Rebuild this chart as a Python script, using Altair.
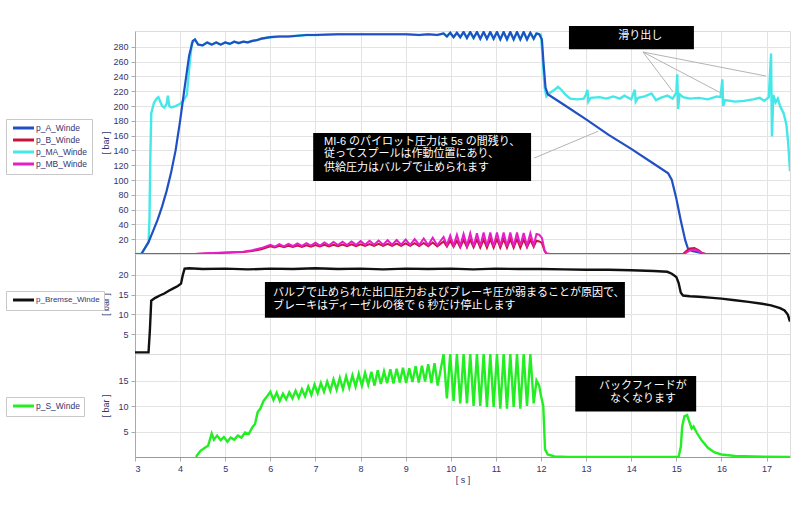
import altair as alt
import pandas as pd

# ---------------- axes / ticks ----------------
X_DOMAIN = [3.0, 17.52]
X_TICKS = list(range(3, 18))
TOP_DOMAIN = [0, 301.4]
TOP_TICKS = [20, 40, 60, 80, 100, 120, 140, 160, 180, 200, 220, 240, 260, 280]
MID_DOMAIN = [0, 25.3]
MID_TICKS = [5, 10, 15, 20]
BOT_DOMAIN = [0, 20.2]
BOT_TICKS = [5, 10, 15]

TOP_NAMES = ["p_A_Winde", "p_B_Winde", "p_MA_Winde", "p_MB_Winde"]
TOP_COLORS = ["#2150c4", "#c8143c", "#44e8e8", "#e61ec8"]
MID_NAMES = ["p_Bremse_Winde"]
MID_COLORS = ["#111111"]
BOT_NAMES = ["p_S_Winde"]
BOT_COLORS = ["#22ee22"]

# shared oscillation instants (peak / trough) 9.8 s .. 11.9 s
OSC_T = [9.840, 9.914, 9.988, 10.062, 10.136, 10.210, 10.284, 10.358, 10.432, 10.506,
         10.580, 10.654, 10.728, 10.802, 10.876, 10.950, 11.024, 11.098, 11.172, 11.246,
         11.320, 11.394, 11.468, 11.542, 11.616, 11.690, 11.764, 11.838]

# ---------------- p_A_Winde ----------------
A_T_RISE = [3.0, 3.14, 3.3, 3.4, 3.5, 3.6, 3.7, 3.8, 3.9, 4.0, 4.1, 4.2, 4.28]
A_V_RISE = [0, 0, 16, 31, 46, 64, 85, 110, 140, 180, 225, 268, 288]
A_T_PLAT = [4.33, 4.4, 4.5, 4.6, 4.7, 4.8, 4.9, 5.0, 5.1, 5.2,
            5.3, 5.4, 5.5, 5.6, 5.7, 5.8, 5.9, 6.0, 6.2, 6.4,
            6.6, 6.8, 7.0, 7.5, 8.0, 8.5, 9.0, 9.3, 9.5, 9.7]
A_V_PLAT = [290, 283, 282, 286, 283, 286, 283, 286, 284, 287,
            285, 287, 286, 288, 289, 291, 292, 293, 294, 294,
            295, 296, 296, 297, 297, 297, 297, 296, 297, 296]
A_V_OSC = [298, 294, 299, 293, 299, 293, 300, 292, 300, 292, 300, 291, 300, 291,
           300, 291, 300, 290, 300, 290, 300, 290, 300, 290, 300, 290, 299, 291]
A_T_END = [11.9, 11.96, 12.02, 12.06, 12.1, 12.15, 12.5, 13.0, 13.5, 14.0, 14.5,
           14.82, 14.9, 15.0, 15.1, 15.2, 15.26, 15.35, 15.5, 15.65, 17.52]
A_V_END = [298, 297, 290, 255, 225, 216, 202, 182, 161, 142, 122,
           109, 100, 75, 45, 18, 7, 4, 2, 0, 0]

# ---------------- p_MA_Winde ----------------
MA_T_START = [3.0, 3.14, 3.3, 3.32, 3.34, 3.36, 3.42, 3.48, 3.52, 3.56,
              3.6, 3.65, 3.7, 3.73, 3.76, 3.8, 3.9, 4.0, 4.08, 4.15, 4.2, 4.26]
MA_V_START = [0, 0, 16, 45, 130, 190, 204, 210, 212, 206,
              200, 198, 203, 214, 200, 198, 200, 203, 208, 215, 250, 285]
MA_T_END = [11.9, 11.96, 12.0, 12.04, 12.08, 12.12, 12.2, 12.3, 12.38, 12.45,
            12.55, 12.65, 12.8, 12.95, 13.0, 13.03, 13.05, 13.1, 13.3, 13.45,
            13.6, 13.75, 13.85, 14.0, 14.08, 14.1, 14.15, 14.3, 14.45, 14.55,
            14.65, 14.8, 14.92, 15.0, 15.02, 15.04, 15.07, 15.15, 15.3, 15.5,
            15.7, 15.9, 15.98, 16.02, 16.04, 16.08, 16.3, 16.5, 16.7, 16.85,
            16.95, 17.05, 17.1, 17.12, 17.15, 17.2, 17.25, 17.3, 17.38, 17.44,
            17.48, 17.52]
MA_V_END = [298, 297, 296, 262, 225, 213, 218, 222, 226, 222,
            215, 210, 209, 210, 216, 222, 206, 211, 212, 210,
            213, 210, 214, 209, 222, 206, 211, 213, 217, 208,
            211, 214, 210, 218, 243, 196, 216, 212, 210, 211,
            209, 213, 212, 236, 200, 208, 206, 207, 209, 211,
            207, 212, 271, 159, 215, 205, 210, 200, 190, 175,
            150, 112]

# ---------------- p_B_Winde / p_MB_Winde ----------------
RB_T_PRE = [3.0, 4.33, 4.6, 5.0, 5.4, 5.6, 5.8,
            6.0, 6.1, 6.2, 6.3, 6.4, 6.5, 6.6, 6.7, 6.8, 6.9,
            7.0, 7.1, 7.2, 7.3, 7.4, 7.5, 7.6, 7.7, 7.8, 7.9,
            8.0, 8.1, 8.2, 8.3, 8.4, 8.5, 8.6, 8.7, 8.8, 8.9,
            9.0, 9.1, 9.2, 9.3, 9.4, 9.5, 9.6, 9.7]
B_V_PRE = [0, 0, 0.7, 1.6, 2.7, 4, 6.5,
           10.5, 8.8, 11.0, 9.2, 11.2, 9.5, 11.5, 9.6, 11.8, 9.9,
           12.0, 10.1, 12.3, 10.2, 12.5, 10.4, 12.8, 10.5, 13.0, 10.6,
           13.2, 10.8, 13.4, 10.8, 13.6, 11.0, 13.8, 10.9, 14.0, 11.0,
           14.3, 11.0, 14.6, 10.8, 15.0, 10.5, 15.6, 10.2]
B_V_OSC = [17, 10, 18, 9.5, 18, 9, 19, 9, 19, 9, 19.5, 8.5, 19.5, 8.5,
           20, 8.5, 20, 8.5, 20, 8.5, 20, 8.5, 20, 8.5, 19.5, 9, 19, 9.5]
B_T_END = [11.9, 11.96, 12.02, 12.08, 12.12, 12.2, 15.15, 15.22, 15.3, 15.4,
           15.5, 15.58, 15.65, 17.52]
B_V_END = [18, 17, 15, 4, 0.5, 0, 0, 4, 7.5, 8, 5, 1, 0, 0]

MB_V_PRE = [0, 0, 1.0, 2.0, 3.2, 5, 8,
            12.5, 10.0, 13.2, 10.4, 13.6, 10.8, 14.2, 11.0, 14.6, 11.3,
            15.2, 11.5, 15.6, 11.8, 16.2, 12.0, 16.6, 12.2, 17.0, 12.3,
            17.4, 12.5, 17.8, 12.6, 18.2, 12.6, 18.6, 12.5, 19.0, 12.5,
            19.6, 12.4, 20.2, 12.2, 21.0, 12.0, 22.0, 11.8]
MB_V_OSC = [23, 12, 25, 11.5, 26, 11, 27, 11, 28, 10.5, 28, 10.5, 29, 10.5,
            29, 10.5, 29, 10.5, 29, 10.5, 29, 10.5, 29, 11, 28.5, 11, 28, 11.5]
MB_T_END = [11.9, 11.96, 12.02, 12.08, 12.12, 12.2, 15.18, 15.25, 15.32, 15.42,
            15.52, 15.6, 17.52]
MB_V_END = [27, 26, 22, 5, 1, 0, 0, 3, 5.5, 6, 3, 0, 0]

# ---------------- p_Bremse_Winde ----------------
BR_T = [3.0, 3.30, 3.33, 3.36, 3.45, 3.55, 3.65, 3.75, 3.85, 3.95,
        4.02, 4.06, 4.10, 4.2, 4.5, 5.0, 5.5, 6.0, 6.5, 7.0,
        7.5, 8.0, 8.5, 9.0, 9.5, 10.0, 10.5, 11.0, 11.5, 12.0,
        12.5, 13.0, 13.5, 14.0, 14.5, 14.8, 14.9, 15.0, 15.05, 15.1,
        15.15, 15.3, 15.5, 15.8, 16.0, 16.3, 16.6, 16.9, 17.1, 17.3,
        17.4, 17.47, 17.52]
BR_V = [0.4, 0.4, 6, 13.5, 14.2, 14.8, 15.3, 16.0, 16.6, 17.2,
        17.8, 20.0, 21.6, 21.7, 21.5, 21.6, 21.4, 21.6, 21.5, 21.7,
        21.5, 21.6, 21.4, 21.6, 21.5, 21.6, 21.4, 21.6, 21.5, 21.5,
        21.4, 21.3, 21.3, 21.2, 21.0, 20.8, 20.3, 19.5, 18.0, 15.5,
        14.8, 14.6, 14.5, 14.2, 14.0, 13.6, 13.2, 12.7, 12.3, 11.6,
        11.0, 10.0, 8.2]

# ---------------- p_S_Winde ----------------
S_T_PRE = [4.35, 4.45, 4.55, 4.62, 4.7, 4.75, 4.82, 4.9, 4.97, 5.05,
           5.12, 5.2, 5.28, 5.36, 5.44, 5.52, 5.6, 5.66, 5.72, 5.78,
           5.85, 5.92, 6.0, 6.07, 6.14, 6.21, 6.28, 6.35, 6.42, 6.49,
           6.56, 6.63, 6.70, 6.77, 6.84, 6.91, 6.98, 7.05, 7.12, 7.19,
           7.26, 7.33, 7.40, 7.47, 7.54, 7.61, 7.68, 7.75, 7.82, 7.89,
           7.96, 8.03, 8.10, 8.17, 8.24, 8.31, 8.38, 8.45, 8.52, 8.59,
           8.66, 8.73, 8.80, 8.87, 8.94, 9.01, 9.08, 9.15, 9.22, 9.29,
           9.36, 9.43, 9.50, 9.57, 9.64, 9.71]
S_V_PRE = [0, 1.2, 1.8, 2.2, 4.6, 3.4, 4.2, 3.3, 3.9, 3.0,
           3.8, 3.4, 4.2, 3.8, 4.8, 4.5, 5.8, 6.5, 8.8, 9.5,
           11.0, 11.8, 12.8, 11.2, 12.6, 11.0, 12.4, 11.3, 12.7, 11.5,
           13.0, 11.6, 13.3, 11.9, 13.8, 12.2, 14.2, 12.5, 14.5, 12.8,
           14.8, 13.0, 15.2, 13.2, 15.5, 13.3, 15.8, 13.6, 16.0, 13.8,
           16.3, 14.0, 16.5, 14.2, 16.7, 14.0, 17.0, 14.3, 16.8, 14.5,
           17.2, 14.4, 17.3, 14.6, 17.5, 14.5, 17.4, 14.7, 17.8, 14.6,
           17.9, 14.8, 18.2, 14.5, 18.4, 14.0]
S_V_OSC = [20.2, 11.5, 20.2, 11, 20.2, 10.5, 20.2, 10.5, 20.2, 10, 20.2, 10, 20.2, 9.8,
           20.2, 9.8, 20.2, 9.5, 20.2, 9.5, 20.2, 9.8, 20.2, 9.5, 20.2, 10, 20.2, 10.5]
S_T_END = [11.9, 11.96, 12.0, 12.05, 12.09, 12.15, 12.3, 12.6, 15.05, 15.1,
           15.13, 15.18, 15.24, 15.3, 15.34, 15.38, 15.45, 15.55, 15.7, 15.85,
           16.0, 16.3, 16.7, 17.52]
S_V_END = [15, 14, 12, 10, 1.5, 0.5, 0.1, 0, 0, 2,
           6, 8, 8.2, 6.6, 5.6, 6, 4.8, 3.4, 1.8, 0.9,
           0.5, 0.2, 0.1, 0]

# ---------------- annotations (one row per text line) ----------------
NOTE_TOP_LINES = ["MI-6 のパイロット圧力は 5s の間残り、",
                  "従ってスプールは作動位置にあり、",
                  "供給圧力はバルブで止められます"]
NOTE_TOP_T = [7.19, 7.19, 7.19]
NOTE_TOP_V = [152.0, 134.5, 116.9]
NOTE_TOP_BOX = {"t": [6.95], "t2": [11.78], "v": [163.5], "v2": [98.6]}
NOTE_TOP_POINTER = {"t": [11.85], "v": [129.7], "t2": [13.27], "v2": [166]}

NOTE_SLIP_LINES = ["滑り出し"]
NOTE_SLIP_T = [14.2]
NOTE_SLIP_V = [294.6]
NOTE_SLIP_BOX = {"t": [12.62], "t2": [15.39], "v": [308.1], "v2": [276.6]}
NOTE_SLIP_POINTERS = {"t": [14.26, 14.26, 14.26], "v": [273, 273, 273],
                      "t2": [14.93, 15.99, 16.99], "v2": [219, 217.6, 240.5]}

NOTE_MID_LINES = ["バルブで止められた出口圧力およびブレーキ圧が弱まることが原因で、",
                  "ブレーキはディーゼルの後で 6 秒だけ停止します"]
NOTE_MID_T = [6.06, 6.06]
NOTE_MID_V = [15.52, 12.15]
NOTE_MID_BOX = {"t": [5.88], "t2": [13.86], "v": [18.2], "v2": [9.2]}

NOTE_BOT_LINES = ["バックフィードが", "なくなります"]
NOTE_BOT_T = [14.26, 14.26]
NOTE_BOT_V = [14.02, 11.41]
NOTE_BOT_BOX = {"t": [12.76], "t2": [15.44], "v": [15.9], "v2": [8.9]}

# ---------------- styling ----------------
LABEL_COLOR = "#34346e"
FONT = "Liberation Sans"
JP_FONT = "Liberation Sans, 'Noto Sans CJK JP'"
LEGEND_SYMBOL = "M-0.57,0L5.43,0"


def sdf(name, t, v):
    return pd.DataFrame({"t": t, "v": v, "series": name})


def xenc(bottom, field="t"):
    if bottom:
        axis = alt.Axis(values=X_TICKS, title="[ s ]", labelFontSize=9, labelColor=LABEL_COLOR,
                        labelFont=FONT, titleFont=FONT, titleFontSize=9, titleColor=LABEL_COLOR,
                        titleFontWeight="normal", tickSize=4, tickColor="#aaaaaa",
                        domainColor="#999999", labelPadding=3, titlePadding=2, grid=True,
                        gridColor="#e3e3e3")
    else:
        axis = alt.Axis(values=X_TICKS, labels=False, ticks=False, title=None,
                        domainColor="#8a8a8a", grid=True, gridColor="#e3e3e3")
    return alt.X(f"{field}:Q", scale=alt.Scale(domain=X_DOMAIN, nice=False, zero=False), axis=axis)


def yenc(domain, ticks, field="v"):
    axis = alt.Axis(values=ticks, title="[ bar ]", titleX=-25, labelFontSize=9,
                    labelColor=LABEL_COLOR, labelFont=FONT, titleFont=FONT, titleFontSize=9,
                    titleColor=LABEL_COLOR, titleFontWeight="normal", tickSize=4,
                    tickColor="#aaaaaa", domainColor="#aaaaaa", labelPadding=3, grid=True,
                    gridColor="#e3e3e3")
    return alt.Y(f"{field}:Q", scale=alt.Scale(domain=domain, nice=False, zero=False), axis=axis)


def legend(y, pad_spaces, font_size):
    return alt.Legend(orient="none", legendX=-129, legendY=y, title=None,
                      symbolType=LEGEND_SYMBOL, symbolStrokeWidth=3, symbolSize=49,
                      labelFontSize=font_size, labelFont=FONT, labelColor=LABEL_COLOR,
                      labelExpr="datum.label + '" + " " * pad_spaces + "'",
                      fillColor="white", strokeColor="#c8c8c8", padding=4,
                      rowPadding=0, labelOffset=16)


def line(df, bottom, domain, ticks, names, colors, leg, width=2.2):
    return alt.Chart(df).mark_line(strokeWidth=width, clip=True).encode(
        x=xenc(bottom), y=yenc(domain, ticks),
        color=alt.Color("series:N", scale=alt.Scale(domain=names, range=colors), legend=leg))


def box(d, bottom, domain, ticks):
    return alt.Chart(pd.DataFrame(d)).mark_rect(color="black").encode(
        x=xenc(bottom), x2="t2", y=yenc(domain, ticks), y2="v2")


def note(lines, ts, vs, bottom, domain, ticks, align):
    df = pd.DataFrame({"t": ts, "v": vs, "label": lines})
    return alt.Chart(df).mark_text(align=align, baseline="middle", font=JP_FONT,
                                   fontSize=11, color="white").encode(
        x=xenc(bottom), y=yenc(domain, ticks), text="label:N")


def rules(d, bottom, domain, ticks):
    return alt.Chart(pd.DataFrame(d)).mark_rule(color="#b4b4b4", strokeWidth=1).encode(
        x=xenc(bottom), x2="t2", y=yenc(domain, ticks), y2="v2")


# ---------------- top panel ----------------
df_A = sdf("p_A_Winde", A_T_RISE + A_T_PLAT + OSC_T + A_T_END,
           A_V_RISE + A_V_PLAT + A_V_OSC + A_V_END)
df_MA = sdf("p_MA_Winde", MA_T_START + A_T_PLAT + OSC_T + MA_T_END,
            MA_V_START + A_V_PLAT + A_V_OSC + MA_V_END)
df_B = sdf("p_B_Winde", RB_T_PRE + OSC_T + B_T_END, B_V_PRE + B_V_OSC + B_V_END)
df_MB = sdf("p_MB_Winde", RB_T_PRE + OSC_T + MB_T_END, MB_V_PRE + MB_V_OSC + MB_V_END)

tl = legend(88, 3, 8.5)
top = alt.layer(
    line(df_MA, False, TOP_DOMAIN, TOP_TICKS, TOP_NAMES, TOP_COLORS, tl, 2.4),
    line(df_A, False, TOP_DOMAIN, TOP_TICKS, TOP_NAMES, TOP_COLORS, tl, 2.2),
    line(df_B, False, TOP_DOMAIN, TOP_TICKS, TOP_NAMES, TOP_COLORS, tl, 2.0),
    line(df_MB, False, TOP_DOMAIN, TOP_TICKS, TOP_NAMES, TOP_COLORS, tl, 2.0),
    rules(NOTE_TOP_POINTER, False, TOP_DOMAIN, TOP_TICKS),
    rules(NOTE_SLIP_POINTERS, False, TOP_DOMAIN, TOP_TICKS),
    box(NOTE_TOP_BOX, False, TOP_DOMAIN, TOP_TICKS),
    note(NOTE_TOP_LINES, NOTE_TOP_T, NOTE_TOP_V, False, TOP_DOMAIN, TOP_TICKS, "left"),
    box(NOTE_SLIP_BOX, False, TOP_DOMAIN, TOP_TICKS),
    note(NOTE_SLIP_LINES, NOTE_SLIP_T, NOTE_SLIP_V, False, TOP_DOMAIN, TOP_TICKS, "center"),
).properties(width=655, height=223)

# ---------------- middle panel ----------------
df_BR = sdf("p_Bremse_Winde", BR_T, BR_V)
mid = alt.layer(
    line(df_BR, False, MID_DOMAIN, MID_TICKS, MID_NAMES, MID_COLORS, legend(37, 0, 8), 2.4),
    box(NOTE_MID_BOX, False, MID_DOMAIN, MID_TICKS),
    note(NOTE_MID_LINES, NOTE_MID_T, NOTE_MID_V, False, MID_DOMAIN, MID_TICKS, "left"),
).properties(width=655, height=100)

# ---------------- bottom panel ----------------
df_S = sdf("p_S_Winde", S_T_PRE + OSC_T + S_T_END, S_V_PRE + S_V_OSC + S_V_END)
bot = alt.layer(
    line(df_S, True, BOT_DOMAIN, BOT_TICKS, BOT_NAMES, BOT_COLORS, legend(43, 6, 8.5), 2.4),
    box(NOTE_BOT_BOX, True, BOT_DOMAIN, BOT_TICKS),
    note(NOTE_BOT_LINES, NOTE_BOT_T, NOTE_BOT_V, True, BOT_DOMAIN, BOT_TICKS, "center"),
).properties(width=655, height=103)

chart = alt.vconcat(top, mid, bot, spacing=0, bounds="flush").resolve_scale(
    color="independent", y="independent"
).resolve_legend(color="independent").properties(
    padding={"left": 5, "top": 25, "right": 5, "bottom": 5}
).configure_view(stroke="#c8c8c8").configure(background="white")

chart.save("out.html", embed_options={"renderer": "svg", "actions": False})
